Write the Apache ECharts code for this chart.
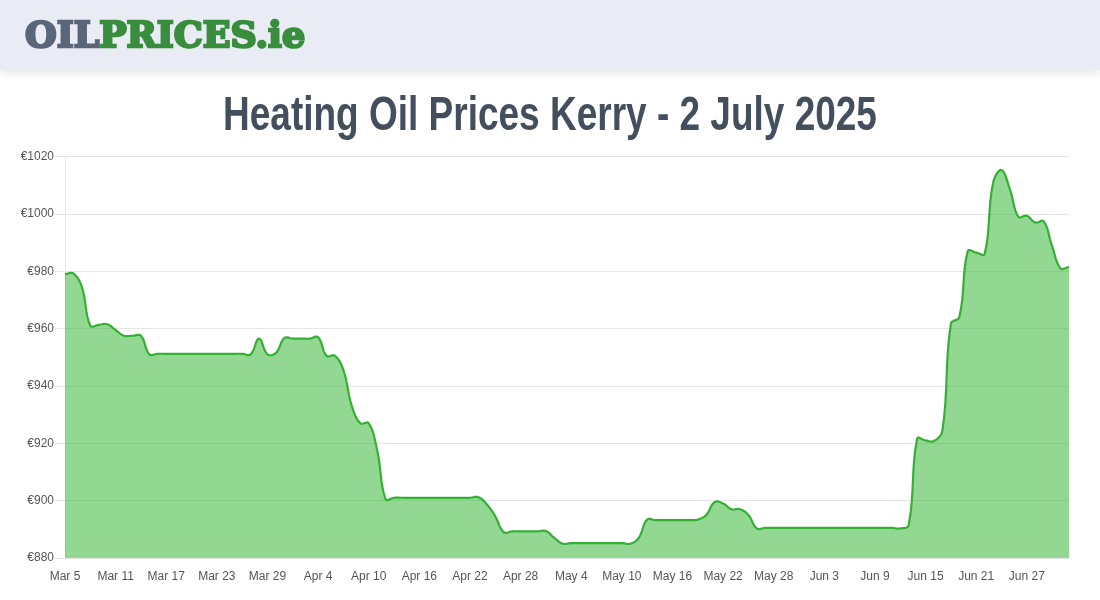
<!DOCTYPE html>
<html><head><meta charset="utf-8">
<style>html,body{margin:0;padding:0;background:#fff}#c{width:1100px;height:600px}</style>
<script src="https://cdn.jsdelivr.net/npm/echarts@6/dist/echarts.min.js"></script>
</head><body><div id="c"></div>
<script>
const chartTitle = 'Heating Oil Prices Kerry - 2 July 2025';
const yTickMin = 880, yTickMax = 1020, yTickStep = 20;
const categories = [
'Mar 5','Mar 6','Mar 7','Mar 8','Mar 9','Mar 10','Mar 11','Mar 12','Mar 13','Mar 14','Mar 15','Mar 16','Mar 17','Mar 18','Mar 19','Mar 20','Mar 21','Mar 22','Mar 23','Mar 24','Mar 25','Mar 26','Mar 27','Mar 28','Mar 29','Mar 30','Mar 31',
'Apr 1','Apr 2','Apr 3','Apr 4','Apr 5','Apr 6','Apr 7','Apr 8','Apr 9','Apr 10','Apr 11','Apr 12','Apr 13','Apr 14','Apr 15','Apr 16','Apr 17','Apr 18','Apr 19','Apr 20','Apr 21','Apr 22','Apr 23','Apr 24','Apr 25','Apr 26','Apr 27','Apr 28','Apr 29','Apr 30',
'May 1','May 2','May 3','May 4','May 5','May 6','May 7','May 8','May 9','May 10','May 11','May 12','May 13','May 14','May 15','May 16','May 17','May 18','May 19','May 20','May 21','May 22','May 23','May 24','May 25','May 26','May 27','May 28','May 29','May 30','May 31',
'Jun 1','Jun 2','Jun 3','Jun 4','Jun 5','Jun 6','Jun 7','Jun 8','Jun 9','Jun 10','Jun 11','Jun 12','Jun 13','Jun 14','Jun 15','Jun 16','Jun 17','Jun 18','Jun 19','Jun 20','Jun 21','Jun 22','Jun 23','Jun 24','Jun 25','Jun 26','Jun 27','Jun 28','Jun 29','Jun 30',
'Jul 1','Jul 2'];
const prices = [
979,979.2,974.5,961,961.3,961.5,959.5,957.5,957.5,957.5,951,951.2,951.2,951.2,951.2,951.2,951.2,951.2,951.2,951.2,951.2,951.2,951,956.5,951,951.5,956.7,956.5,956.5,956.5,957,950.5,950.5,945.5,933,927,927,917.6,900.5,901,
901,901,901,901,901,901,901,901,901,901.2,898.7,894.5,889,889.3,889.3,889.3,889.3,889.4,887,885,885.2,885.2,885.2,885.2,885.2,885.2,885.2,885,887,893.4,893.2,893.2,893.2,893.2,893.2,893.4,895,899.5,899,897,
897,895,890.3,890.5,890.5,890.5,890.5,890.5,890.5,890.5,890.5,890.5,890.5,890.5,890.5,890.5,890.5,890.5,890.5,890.3,891.5,921.6,921,920.8,924.5,961.7,964,987,986.5,986,1010.8,1015.3,1008.5,999,999.3,997,997.4,988.7,981,981.5];
const tension = 0.4, samplesPerSegment = 8;
// Curve through the points given by the axes' own scale, allowing a slight overshoot at each turn.
function renderCurve(params, api) {
  if (params.dataIndex !== 0) return null;
  const pts = prices.map((v, i) => api.coord([i, v]));
  const base = api.coord([0, yTickMin])[1];
  const cps = pts.map((p, i) => {
    const a = pts[Math.max(i - 1, 0)], b = pts[Math.min(i + 1, pts.length - 1)];
    const d0 = Math.hypot(p[0] - a[0], p[1] - a[1]), d1 = Math.hypot(b[0] - p[0], b[1] - p[1]);
    const s = d0 + d1 || 1, fa = tension * d0 / s, fb = tension * d1 / s;
    return { prev: [p[0] - fa * (b[0] - a[0]), p[1] - fa * (b[1] - a[1])],
             next: [p[0] + fb * (b[0] - a[0]), p[1] + fb * (b[1] - a[1])] };
  });
  const curve = [pts[0]];
  for (let i = 0; i < pts.length - 1; i++) {
    const p0 = pts[i], c0 = cps[i].next, c1 = cps[i + 1].prev, p1 = pts[i + 1];
    for (let k = 1; k <= samplesPerSegment; k++) {
      const t = k / samplesPerSegment, u = 1 - t;
      curve.push([0, 1].map(d => u*u*u*p0[d] + 3*u*u*t*c0[d] + 3*u*t*t*c1[d] + t*t*t*p1[d]));
    }
  }
  const area = curve.concat([[pts[pts.length - 1][0], base], [pts[0][0], base]]);
  return { type: 'group', children: [
    { type: 'polygon', shape: { points: area }, style: { fill: 'rgb(50,180,50)', opacity: 0.53 } },
    { type: 'polyline', shape: { points: curve }, style: { fill: 'none', stroke: '#35b035', lineWidth: 2.2, lineJoin: 'round' } }
  ]};
}
const chart = echarts.init(document.getElementById('c'), null, {renderer:'canvas'});
chart.setOption({
  animation:false,
  backgroundColor:'#fff',
  textStyle:{fontFamily:'Liberation Sans'},
  graphic:[
    {type:'rect',z:10,shape:{x:0,y:0,width:1100,height:70},style:{fill:'#e9ecf5',shadowBlur:10,shadowOffsetY:2,shadowColor:'rgba(0,0,0,0.12)'}},
    {type:'text',z:11,x:25,y:20,scaleX:1.01,style:{text:'{a|OIL}{b|PRICES.ie}',rich:{
      a:{fontFamily:'DejaVu Serif',fontWeight:'bold',fontSize:36,fill:'#5a6579',stroke:'#5a6579',lineWidth:2.5},
      b:{fontFamily:'DejaVu Serif',fontWeight:'bold',fontSize:36,fill:'#388e3c',stroke:'#388e3c',lineWidth:2.5}}}},
    {type:'text',z:11,x:550,y:116,scaleX:0.755,style:{text:chartTitle,align:'center',verticalAlign:'middle',fontFamily:'Liberation Sans',fontWeight:'bold',fontSize:49,fill:'#444f5e'}}
  ],
  grid:{left:65,right:31,top:156.5,bottom:42,containLabel:false},
  xAxis:{type:'category',data:categories,boundaryGap:false,
    axisLine:{lineStyle:{color:'#e8e8e8'}},axisTick:{show:false},
    axisLabel:{interval:5,color:'#555',fontSize:12,margin:13,fontFamily:'Liberation Sans',hideOverlap:false},
    splitLine:{show:false}},
  yAxis:{type:'value',min:yTickMin,max:yTickMax,interval:yTickStep,
    axisLine:{show:true,lineStyle:{color:'#e8e8e8'}},
    axisTick:{show:true,length:10,lineStyle:{color:'#e5e5e5'}},
    axisLabel:{formatter:v=>'€'+v,color:'#555',fontSize:12,margin:11,fontFamily:'Liberation Sans'},
    splitLine:{show:true,lineStyle:{color:'#e5e5e5',width:1}}},
  series:[{type:'custom',renderItem:renderCurve,clip:true,silent:true,
    data:prices.map((v,i)=>[i,v]),encode:{x:0,y:1}}]
});
</script></body></html>
